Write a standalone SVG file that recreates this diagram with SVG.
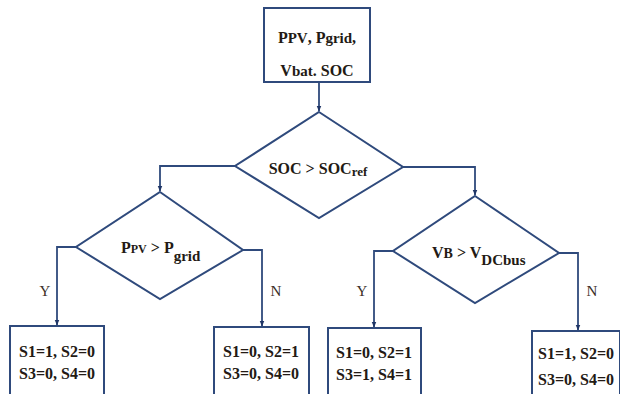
<svg xmlns="http://www.w3.org/2000/svg" width="620" height="394" viewBox="0 0 620 394">
<defs>
<style>
.shape{fill:#fff;stroke:#2f4a7c;stroke-width:2}
.line{fill:none;stroke:#2f4a7c;stroke-width:1.8}
.t{font-family:"Liberation Serif","Times New Roman",serif;font-weight:bold;fill:#231a14;font-size:16px}
.yn{font-family:"Liberation Serif","Times New Roman",serif;fill:#3a2e25;font-size:15px}
</style>
<marker id="ah" viewBox="0 0 10 10" refX="9" refY="5" markerWidth="6" markerHeight="6" orient="auto" markerUnits="userSpaceOnUse">
<path d="M0,1 L10,5 L0,9 z" fill="#1f3566"/>
</marker>
</defs>
<rect width="620" height="394" fill="#fff"/>
<g id="connectors">
<path class="line" d="M319,82 V111" marker-end="url(#ah)"/>
<path class="line" d="M235,166 H160 V191" marker-end="url(#ah)"/>
<path class="line" d="M403,167 H475 V195" marker-end="url(#ah)"/>
<path class="line" d="M76,247 H57 V325" marker-end="url(#ah)"/>
<path class="line" d="M243,250 H262 V326" marker-end="url(#ah)"/>
<path class="line" d="M393,251 H374 V327" marker-end="url(#ah)"/>
<path class="line" d="M559,253 H578 V330" marker-end="url(#ah)"/>
<text class="yn" x="45" y="296" text-anchor="middle">Y</text>
<text class="yn" x="276" y="296" text-anchor="middle">N</text>
<text class="yn" x="362" y="296" text-anchor="middle">Y</text>
<text class="yn" x="592" y="296" text-anchor="middle">N</text>
</g>
<g id="start">
<rect class="shape" x="264" y="8" width="106" height="74"/>
<text class="t" x="317" y="43" text-anchor="middle">P<tspan font-size="15">PV</tspan>, P<tspan font-size="15">grid</tspan>,</text>
<text class="t" x="317" y="76" text-anchor="middle">V<tspan font-size="15">bat</tspan>. SOC</text>
</g>
<g id="d1">
<polygon class="shape" points="319,112 403,167 319,218 235,166"/>
<text class="t" x="318" y="174" text-anchor="middle">SOC &gt; SOC<tspan font-size="13" dy="2">ref</tspan></text>
</g>
<g id="d2">
<polygon class="shape" points="160,192 243,250 160,299 76,247"/>
<text class="t" x="121" y="253">P<tspan font-size="12">PV</tspan> &gt; P<tspan font-size="15" dy="8">grid</tspan></text>
</g>
<g id="d3">
<polygon class="shape" points="475,196 559,253 475,303 393,251"/>
<text class="t" x="432" y="258">V<tspan font-size="14">B</tspan> &gt; V<tspan font-size="15" dy="7">DCbus</tspan></text>
</g>
<g id="b1">
<rect class="shape" x="10" y="326" width="94" height="80"/>
<text class="t" x="57" y="357" text-anchor="middle">S1=1, S2=0</text>
<text class="t" x="57" y="379" text-anchor="middle">S3=0, S4=0</text>
</g>
<g id="b2">
<rect class="shape" x="214" y="327" width="95" height="80"/>
<text class="t" x="261" y="357" text-anchor="middle">S1=0, S2=1</text>
<text class="t" x="261" y="379" text-anchor="middle">S3=0, S4=0</text>
</g>
<g id="b3">
<rect class="shape" x="328" y="328" width="93" height="80"/>
<text class="t" x="374" y="358" text-anchor="middle">S1=0, S2=1</text>
<text class="t" x="374" y="380" text-anchor="middle">S3=1, S4=1</text>
</g>
<g id="b4">
<rect class="shape" x="532" y="331" width="88" height="80"/>
<text class="t" x="576" y="359" text-anchor="middle">S1=1, S2=0</text>
<text class="t" x="576" y="385" text-anchor="middle">S3=0, S4=0</text>
</g>
</svg>
